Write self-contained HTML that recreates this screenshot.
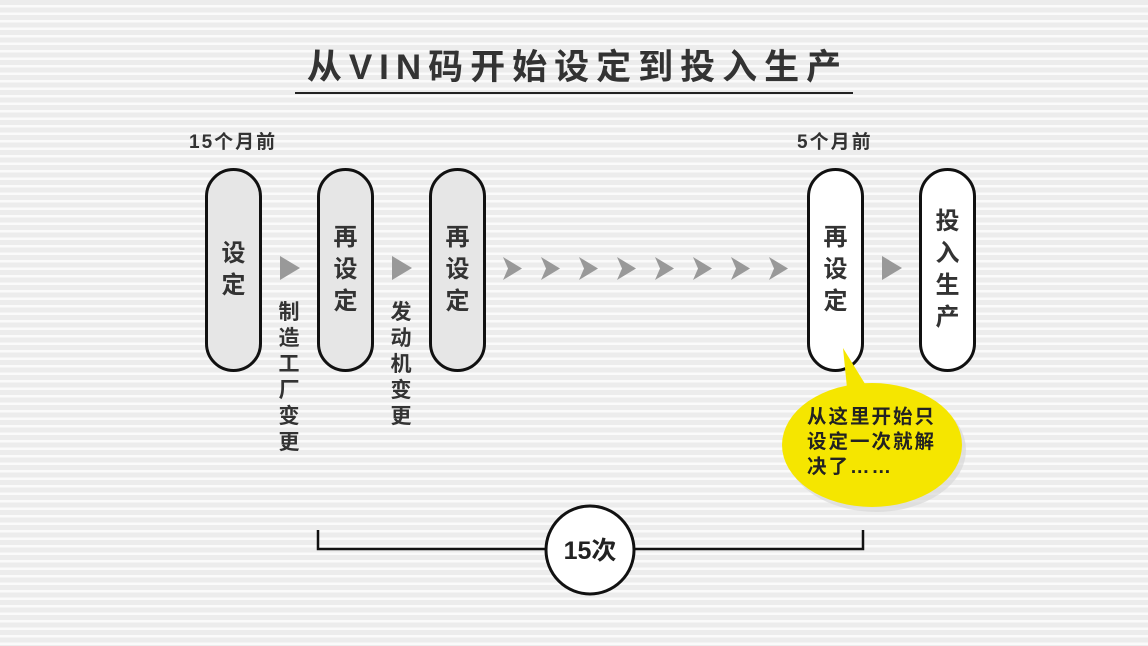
<!DOCTYPE html>
<html><head><meta charset="utf-8"><style>
*{margin:0;padding:0;box-sizing:border-box}
body{width:1148px;height:646px;overflow:hidden;position:relative;
background:repeating-linear-gradient(180deg,#ececec 0px,#ececec 5px,#fafafa 5px,#fafafa 7.5px);
font-family:"Liberation Sans","Noto Sans CJK SC",sans-serif;font-weight:bold;color:#333}
.a{position:absolute}
.title{left:295px;width:558px;top:46px;text-align:center;font-size:35px;letter-spacing:7px;line-height:44px;color:#333;padding-left:7px}
.ul{left:295px;top:92px;width:558px;height:2px;background:#222}
.pill{position:absolute;top:168px;width:57px;height:204px;border:3px solid #111;border-radius:29px;background:#e6e6e6;
display:flex;align-items:center;justify-content:center;font-size:24px;line-height:32px;text-align:center;color:#333}
.w{background:#fff}
.tri{position:absolute;top:256px;width:0;height:0;border-top:12px solid transparent;border-bottom:12px solid transparent;border-left:20px solid #999}
.vt{position:absolute;top:300px;width:24px;font-size:21px;line-height:26px;text-align:center;color:#333}
.lbl{font-size:19px;line-height:20px;letter-spacing:2px;color:#333}
</style></head><body>
<div class="a title">从VIN码开始设定到投入生产</div>
<div class="a ul"></div>
<div class="a lbl" style="left:189px;top:133px">15个月前</div>
<div class="a lbl" style="left:797px;top:133px">5个月前</div>
<div class="pill" style="left:205px">设<br>定</div>
<div class="pill" style="left:317px">再<br>设<br>定</div>
<div class="pill" style="left:429px">再<br>设<br>定</div>
<div class="pill w" style="left:807px">再<br>设<br>定</div>
<div class="pill w" style="left:919px">投<br>入<br>生<br>产</div>
<div class="tri" style="left:280px"></div>
<div class="tri" style="left:392px"></div>
<div class="tri" style="left:882px"></div>
<div class="vt" style="left:277px">制<br>造<br>工<br>厂<br>变<br>更</div>
<div class="vt" style="left:389px">发<br>动<br>机<br>变<br>更</div>
<svg class="a" style="left:0;top:0" width="1148" height="646">
<g fill="#999">
<path d="M503,257 L522,268.5 L503,280 L508,268.5Z"/>
<path d="M541,257 L560,268.5 L541,280 L546,268.5Z"/>
<path d="M579,257 L598,268.5 L579,280 L584,268.5Z"/>
<path d="M617,257 L636,268.5 L617,280 L622,268.5Z"/>
<path d="M655,257 L674,268.5 L655,280 L660,268.5Z"/>
<path d="M693,257 L712,268.5 L693,280 L698,268.5Z"/>
<path d="M731,257 L750,268.5 L731,280 L736,268.5Z"/>
<path d="M769,257 L788,268.5 L769,280 L774,268.5Z"/>
</g>
<path d="M318,530 V549 H863 V530" fill="none" stroke="#111" stroke-width="2.5"/>
<circle cx="590" cy="550" r="44" fill="#fff" stroke="#111" stroke-width="3"/>
<text x="590" y="559" text-anchor="middle" font-size="25" font-weight="bold" fill="#222" font-family="Liberation Sans,Noto Sans CJK SC,sans-serif">15次</text>
<ellipse cx="876" cy="450" rx="90" ry="62" fill="#d8d8d8" opacity="0.7"/>
<path d="M843,348 L870,392 L848,398Z" fill="#f5e600"/>
<ellipse cx="872" cy="445" rx="90" ry="62" fill="#f5e600"/>
</svg>
<div class="a" style="left:807px;top:405px;font-size:19.5px;line-height:25px;letter-spacing:2px;color:#222">从这里开始只<br>设定一次就解<br>决了……</div>
</body></html>
